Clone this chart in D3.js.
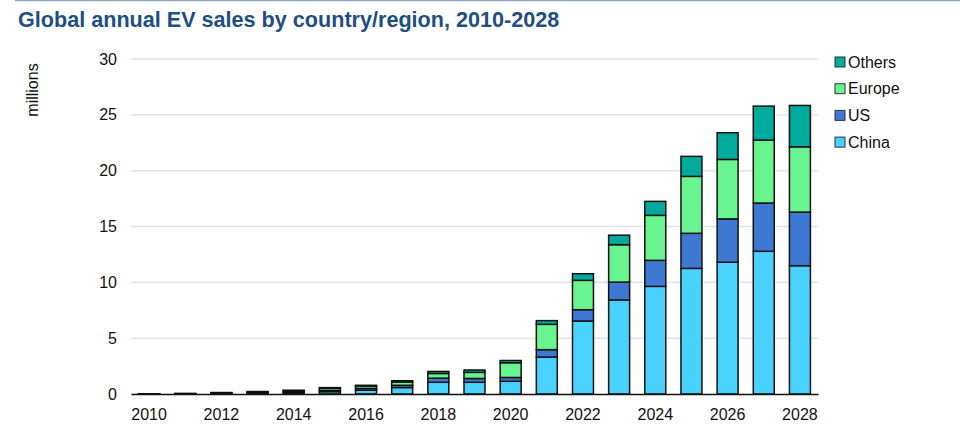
<!DOCTYPE html>
<html>
<head>
<meta charset="utf-8">
<script src="https://cdn.jsdelivr.net/npm/d3@7"></script>
<style>
  body { margin: 0; background: #fff; }
  svg text { font-family: "Liberation Sans", Arial, sans-serif; }
</style>
</head>
<body>
<svg id="chart" width="960" height="441"></svg>
<script>
// chart data (millions of EVs sold)
const years = ['2010','2011','2012','2013','2014','2015','2016','2017','2018','2019',
               '2020','2021','2022','2023','2024','2025','2026','2027','2028']
const china  = [0.002, 0.005, 0.01, 0.016, 0.07, 0.21, 0.34, 0.58, 1.05, 1.05, 1.14, 3.31, 6.54, 8.42, 9.64, 11.25, 11.8, 12.78, 11.49]
const us     = [0.001, 0.018, 0.05, 0.1, 0.12, 0.11, 0.16, 0.2, 0.37, 0.34, 0.34, 0.66, 1.01, 1.6, 2.33, 3.14, 3.88, 4.32, 4.8]
const europe = [0.002, 0.012, 0.04, 0.065, 0.1, 0.19, 0.22, 0.3, 0.42, 0.55, 1.32, 2.27, 2.63, 3.35, 4.03, 5.1, 5.33, 5.64, 5.85]
const others = [0.003, 0.01, 0.03, 0.04, 0.05, 0.06, 0.06, 0.11, 0.18, 0.21, 0.2, 0.33, 0.59, 0.85, 1.25, 1.79, 2.39, 3.04, 3.7]
const seriesNames = ['China', 'US', 'Europe', 'Others']
const yTicks = [0, 5, 10, 15, 20, 25, 30]

const colors = {China: '#4ad2ff', US: '#3d78d2', Europe: '#68f58f', Others: '#00ab9d'}

const rows = years.map((y, i) => ({year: y, China: china[i], US: us[i], Europe: europe[i], Others: others[i]}))
const stacked = d3.stack().keys(seriesNames)(rows)

const svg = d3.select('#chart')

// thin rule across the top
svg.append('line')
    .attr('x1', 15).attr('x2', 960).attr('y1', 0.5).attr('y2', 0.5)
    .attr('stroke', '#8fa9c9').attr('stroke-width', 1.5)

svg.append('text')
    .attr('x', 18).attr('y', 27)
    .attr('fill', '#1f4e82')
    .attr('font-size', 21.6)
    .attr('font-weight', 'bold')
    .text('Global annual EV sales by country/region, 2010-2028')

const x = d3.scaleBand().domain(years).range([131, 818]).paddingInner(0.42).paddingOuter(0.21)
const y = d3.scaleLinear().domain([0, 30]).range([394, 59])

// gridlines
svg.append('g').selectAll('line')
    .data(yTicks.filter(d => d > 0))
    .join('line')
    .attr('x1', 131).attr('x2', 818)
    .attr('y1', d => y(d)).attr('y2', d => y(d))
    .attr('stroke', '#e3e3e3').attr('stroke-width', 1.5)

// y axis labels
const yAxis = svg.append('g')
    .attr('transform', 'translate(131,0)')
    .call(d3.axisLeft(y).tickValues(yTicks).tickSize(0).tickPadding(14))
yAxis.select('.domain').remove()
yAxis.selectAll('text').attr('font-size', 16).attr('fill', '#111').attr('font-family', '"Liberation Sans", Arial, sans-serif')

svg.append('text')
    .attr('transform', 'translate(38,90) rotate(-90)')
    .attr('text-anchor', 'middle')
    .attr('font-size', 16)
    .attr('fill', '#111')
    .text('millions')

// bars
svg.append('g').selectAll('g')
    .data(stacked)
    .join('g')
    .attr('fill', d => colors[d.key])
    .selectAll('rect')
    .data(d => d)
    .join('rect')
    .attr('x', d => x(d.data.year))
    .attr('width', x.bandwidth())
    .attr('y', d => y(d[1]))
    .attr('height', d => y(d[0]) - y(d[1]))
    .attr('stroke', '#111')
    .attr('stroke-width', 1.5)

// x axis
const xAxis = svg.append('g')
    .attr('transform', 'translate(0,394)')
    .call(d3.axisBottom(x).tickValues(years.filter((d, i) => i % 2 === 0)).tickSize(0).tickPadding(15))
xAxis.select('.domain').attr('stroke', '#111').attr('stroke-width', 1.5)
xAxis.selectAll('text').attr('font-size', 16).attr('fill', '#111').attr('font-family', '"Liberation Sans", Arial, sans-serif')

// legend, top-down: Others, Europe, US, China
const legendItems = seriesNames.slice().reverse()
const legend = svg.append('g').selectAll('g')
    .data(legendItems)
    .join('g')
    .attr('transform', (d, i) => `translate(835,${57 + i * 26.7})`)
legend.append('rect')
    .attr('width', 10).attr('height', 10)
    .attr('fill', d => colors[d])
    .attr('stroke', '#333').attr('stroke-width', 1)
legend.append('text')
    .attr('x', 13).attr('y', 10.5)
    .attr('font-size', 16)
    .attr('fill', '#111')
    .text(d => d)
</script>
</body>
</html>
